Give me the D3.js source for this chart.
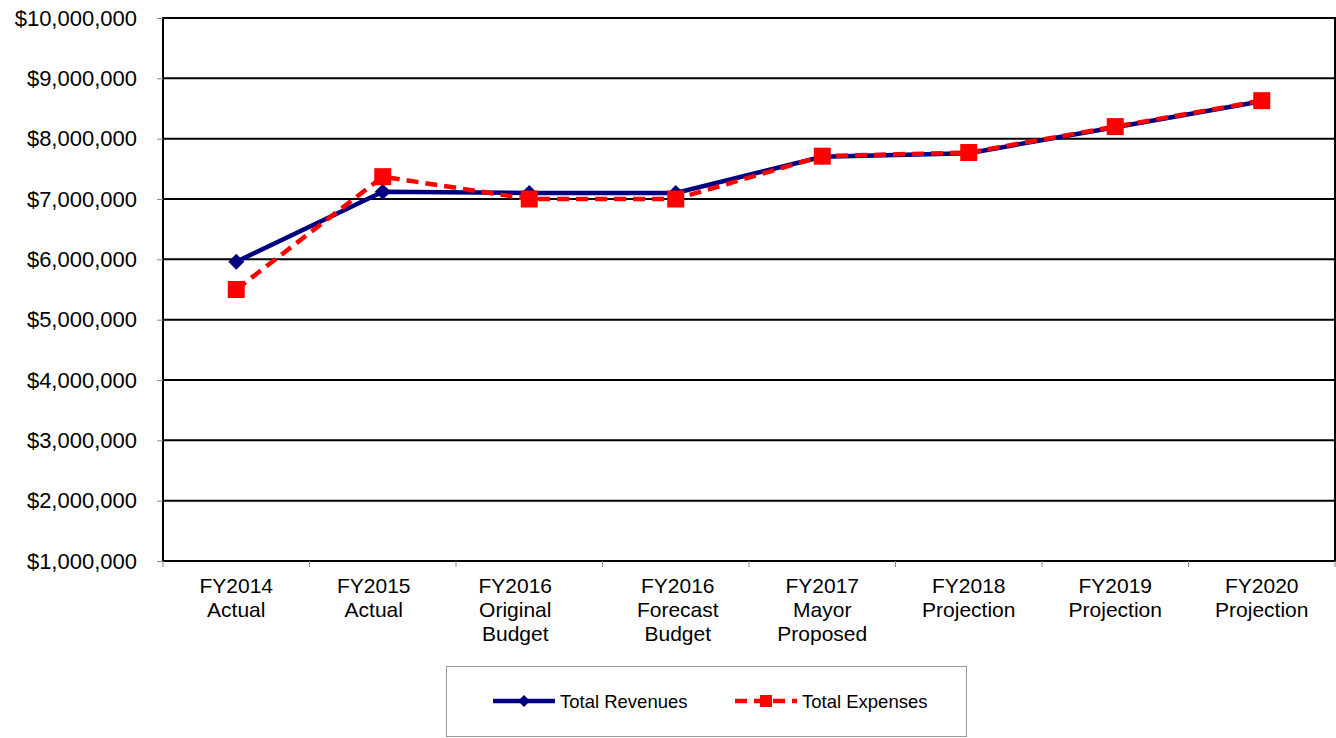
<!DOCTYPE html>
<html><head><meta charset="utf-8">
<script src="https://cdn.jsdelivr.net/npm/d3@7"></script>
<style>body{margin:0;background:#fff}svg{display:block;font-family:"Liberation Sans",Arial,sans-serif}</style>
</head><body>
<svg id="c" width="1336" height="738"></svg>
<script>
const categories = [["FY2014","Actual"],["FY2015","Actual"],["FY2016","Original","Budget"],["FY2016","Forecast","Budget"],["FY2017","Mayor","Proposed"],["FY2018","Projection"],["FY2019","Projection"],["FY2020","Projection"]];
const revenues = [5960000, 7120000, 7100000, 7100000, 7700000, 7760000, 8190000, 8620000];
const expenses = [5500000, 7370000, 7000000, 7000000, 7710000, 7770000, 8200000, 8630000];
const yTicks = [1000000,2000000,3000000,4000000,5000000,6000000,7000000,8000000,9000000,10000000];
const seriesNames = ["Total Revenues","Total Expenses"];

const svg = d3.select("#c");
const L=163, R=1335, T=18, B=561;
const keys = categories.map((c,i)=>i);
const x = d3.scaleBand().domain(keys).range([L,R]);
const y = d3.scaleLinear().domain([1000000,10000000]).range([B,T]);
const fmt = v => "$" + d3.format(",")(v);
// small label nudges (style only) to mimic the original's wrapped-label placement
const labelNudge = [0,-9,-14,2,0,0,0,0];

svg.append("g").selectAll("line").data(yTicks).join("line")
  .attr("x1",L).attr("x2",R).attr("y1",d=>y(d)).attr("y2",d=>y(d))
  .attr("stroke","#000").attr("stroke-width",2);
svg.append("rect").attr("x",L).attr("y",T).attr("width",R-L).attr("height",B-T)
  .attr("fill","none").attr("stroke","#000").attr("stroke-width",2);

const ya = svg.append("g").attr("transform",`translate(${L},0)`)
  .call(d3.axisLeft(y).tickValues(yTicks).tickFormat(fmt).tickSize(6).tickPadding(20));
ya.select(".domain").remove();
ya.selectAll("line").attr("stroke","#888");
ya.selectAll("text").attr("font-size","22px").attr("fill","#000").attr("font-family","Liberation Sans, Arial, sans-serif");

const bounds = keys.map(k=>x(k)).concat([R]);
svg.append("g").selectAll("line").data(bounds).join("line")
  .attr("x1",d=>d).attr("x2",d=>d).attr("y1",B).attr("y2",B+6).attr("stroke","#888");
const xl = svg.append("g").selectAll("text").data(categories).join("text")
  .attr("text-anchor","middle").attr("font-size","21px").attr("fill","#000")
  .attr("transform",(d,i)=>`translate(${x(i)+x.bandwidth()/2+labelNudge[i]},593)`);
xl.selectAll("tspan").data(d=>d).join("tspan").attr("x",0).attr("dy",(d,i)=>i?24:0).text(d=>d);

const cx = i => x(i)+x.bandwidth()/2;
const line = d3.line().x((d,i)=>cx(i)).y(d=>y(d));

svg.append("path").attr("d",line(revenues)).attr("fill","none").attr("stroke","#000080").attr("stroke-width",4.5);
const diamond = s => `M0,${-s}L${s},0L0,${s}L${-s},0Z`;
svg.append("g").selectAll("path").data(revenues).join("path")
  .attr("transform",(d,i)=>`translate(${cx(i)},${y(d)})`).attr("d",diamond(8)).attr("fill","#000080");

svg.append("path").attr("d",line(expenses)).attr("fill","none").attr("stroke","#FF0000").attr("stroke-width",4.5).attr("stroke-dasharray","12,7");
svg.append("g").selectAll("rect").data(expenses).join("rect")
  .attr("x",(d,i)=>cx(i)-8.5).attr("y",d=>y(d)-8.5).attr("width",17).attr("height",17).attr("fill","#FF0000");

const lg = svg.append("g");
lg.append("rect").attr("x",446.5).attr("y",666.5).attr("width",520).attr("height",70).attr("fill","#fff").attr("stroke","#999").attr("stroke-width",1);
const ly = 701;
lg.append("line").attr("x1",493).attr("x2",555).attr("y1",ly).attr("y2",ly).attr("stroke","#000080").attr("stroke-width",4.5);
lg.append("path").attr("transform",`translate(524,${ly})`).attr("d",diamond(6)).attr("fill","#000080");
lg.append("text").attr("x",560).attr("y",ly+6.5).attr("font-size","18.5px").text(seriesNames[0]);
lg.append("line").attr("x1",735).attr("x2",797).attr("y1",ly).attr("y2",ly).attr("stroke","#FF0000").attr("stroke-width",4.5).attr("stroke-dasharray","12,7");
lg.append("rect").attr("x",760).attr("y",ly-6).attr("width",12).attr("height",12).attr("fill","#FF0000");
lg.append("text").attr("x",802).attr("y",ly+6.5).attr("font-size","18.5px").text(seriesNames[1]);
</script>
</body></html>
